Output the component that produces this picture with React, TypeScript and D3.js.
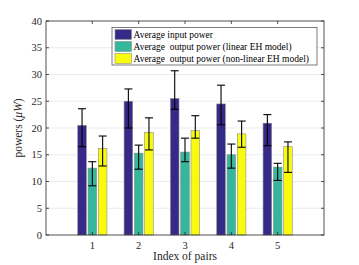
import React, { useEffect, useRef } from 'react';
import * as d3 from 'd3';

const pairs = [1, 2, 3, 4, 5];
const inputPower = [20.5, 25.0, 25.5, 24.5, 20.9];
const inputLow = [16.5, 20.0, 23.5, 20.6, 16.7];
const inputHigh = [23.6, 27.3, 30.7, 28.0, 22.5];
const linearPower = [12.5, 15.3, 15.5, 15.0, 12.7];
const linearLow = [9.2, 12.3, 13.7, 12.5, 10.2];
const linearHigh = [13.7, 16.8, 18.1, 17.0, 13.4];
const nonlinearPower = [16.2, 19.2, 19.5, 18.9, 16.5];
const nonlinearLow = [12.9, 15.9, 18.1, 16.4, 11.7];
const nonlinearHigh = [18.5, 21.9, 22.3, 21.3, 17.4];
const yTicks = [0, 5, 10, 15, 20, 25, 30, 35, 40];
const legendLabels = [
  'Average input power',
  'Average  output power (linear EH model)',
  'Average  output power (non-linear EH model)',
];
const colors = ['#352a87', '#35b79b', '#f9fb0e'];

const App = () => {
  const ref = useRef<SVGSVGElement>(null);

  useEffect(() => {
    const svg = d3.select(ref.current);
    svg.selectAll('*').remove();

    const width = 359;
    const height = 265;
    const margin = { top: 21, right: 35, bottom: 30, left: 46 };
    const font = '"Liberation Serif", "Times New Roman", serif';

    const x = d3.scaleLinear().domain([0, 6]).range([margin.left, width - margin.right]);
    const y = d3.scaleLinear().domain([0, 40]).range([height - margin.bottom, margin.top]);

    svg.append('rect').attr('width', width).attr('height', height).attr('fill', '#fff');

    // grid
    svg.append('g')
      .selectAll('line')
      .data(yTicks.slice(1, -1))
      .join('line')
      .attr('x1', x(0)).attr('x2', x(6))
      .attr('y1', d => y(d)).attr('y2', d => y(d))
      .attr('stroke', '#ebebeb').attr('stroke-width', 1);

    const series = [
      { vals: inputPower, lo: inputLow, hi: inputHigh },
      { vals: linearPower, lo: linearLow, hi: linearHigh },
      { vals: nonlinearPower, lo: nonlinearLow, hi: nonlinearHigh },
    ];
    const offset = 10.3;
    const barW = 8.6;

    series.forEach((s, si) => {
      const g = svg.append('g');
      const cx = (i: number) => x(pairs[i]) + (si - 1) * offset;
      g.selectAll('rect')
        .data(s.vals)
        .join('rect')
        .attr('x', (_, i) => cx(i) - barW / 2)
        .attr('width', barW)
        .attr('y', d => y(d))
        .attr('height', d => y(0) - y(d))
        .attr('fill', colors[si])
        .attr('stroke', '#8c8c8c')
        .attr('stroke-width', 0.6);
      const eb = svg.append('g').attr('stroke', '#000').attr('stroke-width', 1.1);
      s.vals.forEach((_, i) => {
        const c = cx(i);
        eb.append('line').attr('x1', c).attr('x2', c).attr('y1', y(s.lo[i])).attr('y2', y(s.hi[i]));
        eb.append('line').attr('x1', c - 4).attr('x2', c + 4).attr('y1', y(s.lo[i])).attr('y2', y(s.lo[i]));
        eb.append('line').attr('x1', c - 4).attr('x2', c + 4).attr('y1', y(s.hi[i])).attr('y2', y(s.hi[i]));
      });
    });

    // axes box
    const ax = svg.append('g').attr('stroke', '#262626').attr('stroke-width', 0.8).attr('fill', 'none');
    ax.append('rect')
      .attr('x', x(0)).attr('y', y(40))
      .attr('width', x(6) - x(0)).attr('height', y(0) - y(40));
    pairs.forEach(p => {
      ax.append('line').attr('x1', x(p)).attr('x2', x(p)).attr('y1', y(0)).attr('y2', y(0) - 3);
      ax.append('line').attr('x1', x(p)).attr('x2', x(p)).attr('y1', y(40)).attr('y2', y(40) + 3);
    });
    yTicks.forEach(t => {
      ax.append('line').attr('x1', x(0)).attr('x2', x(0) + 3).attr('y1', y(t)).attr('y2', y(t));
      ax.append('line').attr('x1', x(6)).attr('x2', x(6) - 3).attr('y1', y(t)).attr('y2', y(t));
    });

    svg.append('g')
      .selectAll('text')
      .data(yTicks)
      .join('text')
      .attr('x', x(0) - 4)
      .attr('y', d => y(d) + 3.5)
      .attr('text-anchor', 'end')
      .attr('font-family', font)
      .attr('font-size', 10.5)
      .attr('fill', '#262626')
      .text(d => d);

    svg.append('g')
      .selectAll('text')
      .data(pairs)
      .join('text')
      .attr('x', d => x(d))
      .attr('y', y(0) + 14)
      .attr('text-anchor', 'middle')
      .attr('font-family', font)
      .attr('font-size', 10.5)
      .attr('fill', '#262626')
      .text(d => d);

    svg.append('text')
      .attr('x', (x(0) + x(6)) / 2)
      .attr('y', 260)
      .attr('text-anchor', 'middle')
      .attr('font-family', font)
      .attr('font-size', 11.5)
      .attr('fill', '#262626')
      .text('Index of pairs');

    const yl = svg.append('text')
      .attr('transform', `translate(22,${(y(0) + y(40)) / 2}) rotate(-90)`)
      .attr('text-anchor', 'middle')
      .attr('font-family', font)
      .attr('font-size', 11.5)
      .attr('fill', '#262626');
    yl.append('tspan').text('powers (');
    yl.append('tspan').attr('font-style', 'italic').text('μW');
    yl.append('tspan').text(')');

    // legend
    const lx = 112, ly = 27.5, lw = 205, lh = 37.5;
    const lg = svg.append('g');
    lg.append('rect')
      .attr('x', lx).attr('y', ly).attr('width', lw).attr('height', lh)
      .attr('fill', '#fff').attr('stroke', '#262626').attr('stroke-width', 0.6);
    legendLabels.forEach((label, i) => {
      const cy = ly + 7 + i * 12;
      lg.append('rect')
        .attr('x', lx + 3).attr('y', cy - 5).attr('width', 16.5).attr('height', 10)
        .attr('fill', colors[i]).attr('stroke', '#8c8c8c').attr('stroke-width', 0.6);
      lg.append('text')
        .attr('x', lx + 21.5).attr('y', cy + 3.3)
        .attr('font-family', font)
        .attr('font-size', 9.5)
        .attr('fill', '#000')
        .attr('xml:space', 'preserve')
        .style('white-space', 'pre')
        .text(label);
    });
  }, []);

  return <svg ref={ref} width={359} height={265} style={{ position: 'absolute', left: 0, top: 0 }}></svg>;
};

export default App;
